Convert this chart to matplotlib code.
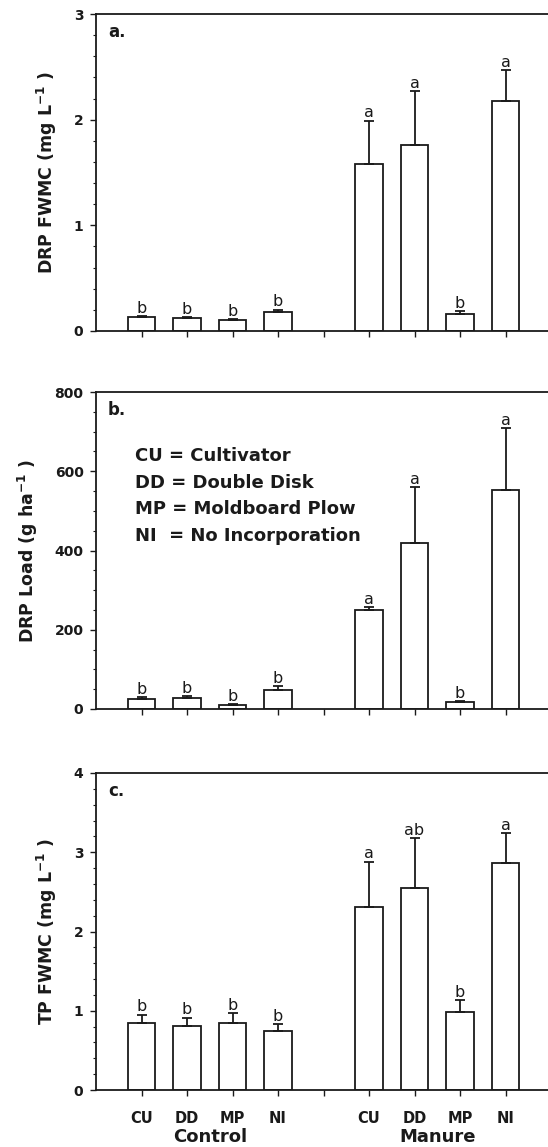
import matplotlib
matplotlib.use("Agg")
import matplotlib.pyplot as plt
from matplotlib.ticker import MultipleLocator

plt.rcParams['font.family'] = ['DejaVu Sans']
plt.rcParams['mathtext.fontset'] = 'custom'
plt.rcParams['mathtext.rm'] = 'DejaVu Sans:bold'
plt.rcParams['mathtext.bf'] = 'DejaVu Sans:bold'
plt.rcParams['mathtext.it'] = 'DejaVu Sans:bold'

# ---- data ----
treatments = ["CU", "DD", "MP", "NI"]
groups = ["Control", "Manure"]
ctrl_pos = [1, 2, 3, 4]
man_pos = [6, 7, 8, 9]

drp_fwmc_ctrl = [0.13, 0.12, 0.10, 0.18]
drp_fwmc_ctrl_err = [0.01, 0.01, 0.01, 0.02]
drp_fwmc_man = [1.58, 1.76, 0.16, 2.18]
drp_fwmc_man_err = [0.41, 0.51, 0.03, 0.29]
drp_fwmc_letters_ctrl = ["b", "b", "b", "b"]
drp_fwmc_letters_man = ["a", "a", "b", "a"]

drp_load_ctrl = [25, 27, 10, 49]
drp_load_ctrl_err = [5, 6, 2, 9]
drp_load_man = [250, 420, 17, 553]
drp_load_man_err = [7, 139, 2, 155]
drp_load_letters_ctrl = ["b", "b", "b", "b"]
drp_load_letters_man = ["a", "a", "b", "a"]

tp_fwmc_ctrl = [0.85, 0.81, 0.85, 0.75]
tp_fwmc_ctrl_err = [0.10, 0.10, 0.12, 0.08]
tp_fwmc_man = [2.31, 2.55, 0.98, 2.87]
tp_fwmc_man_err = [0.57, 0.63, 0.15, 0.37]
tp_fwmc_letters_ctrl = ["b", "b", "b", "b"]
tp_fwmc_letters_man = ["a", "ab", "b", "a"]

legend_lines = ["CU = Cultivator", "DD = Double Disk", "MP = Moldboard Plow", "NI  = No Incorporation"]

W, H = 548, 1147
fig = plt.figure(figsize=(W / 100, H / 100), dpi=100)

left_px = 96
unit_px = 45.5
xmax = 10.5
ax_w = xmax * unit_px

panels = [
    dict(top=14, vals_c=drp_fwmc_ctrl, err_c=drp_fwmc_ctrl_err, vals_m=drp_fwmc_man, err_m=drp_fwmc_man_err,
         let_c=drp_fwmc_letters_ctrl, let_m=drp_fwmc_letters_man, ylim=3, major=1, minor=0.2,
         ylabel=r"DRP FWMC (mg L$^{\mathbf{-1}}$ )", tag="a.", labx=47),
    dict(top=392, vals_c=drp_load_ctrl, err_c=drp_load_ctrl_err, vals_m=drp_load_man, err_m=drp_load_man_err,
         let_c=drp_load_letters_ctrl, let_m=drp_load_letters_man, ylim=800, major=200, minor=50,
         ylabel=r"DRP Load (g ha$^{\mathbf{-1}}$ )", tag="b.", labx=28),
    dict(top=773, vals_c=tp_fwmc_ctrl, err_c=tp_fwmc_ctrl_err, vals_m=tp_fwmc_man, err_m=tp_fwmc_man_err,
         let_c=tp_fwmc_letters_ctrl, let_m=tp_fwmc_letters_man, ylim=4, major=1, minor=0.2,
         ylabel=r"TP FWMC (mg L$^{\mathbf{-1}}$ )", tag="c.", labx=47),
]

ax_h = 317
lw = 1.3
ink = '#1a1a1a'
for i, p in enumerate(panels):
    ax = fig.add_axes([left_px / W, 1 - (p['top'] + ax_h) / H, ax_w / W, ax_h / H])
    pos = ctrl_pos + man_pos
    vals = p['vals_c'] + p['vals_m']
    errs = p['err_c'] + p['err_m']
    lets = p['let_c'] + p['let_m']
    ax.bar(pos, vals, width=0.6, color='white', edgecolor=ink, linewidth=lw, zorder=2)
    ax.errorbar(pos, vals, yerr=[[0] * len(errs), errs], fmt='none', ecolor=ink,
                elinewidth=lw, capsize=3.8, capthick=lw, zorder=3)
    for x, v, e, l in zip(pos, vals, errs, lets):
        ax.annotate(l, (x, v + e), xytext=(0, 0.3), textcoords='offset points',
                    ha='center', va='bottom', fontsize=11.5, color=ink)
    ax.set_xlim(0, xmax)
    ax.set_ylim(0, p['ylim'])
    ax.yaxis.set_major_locator(MultipleLocator(p['major']))
    ax.yaxis.set_minor_locator(MultipleLocator(p['minor']))
    ax.set_xticks(ctrl_pos + [5] + man_pos)
    if i == 2:
        ax.set_xticklabels(treatments + [""] + treatments, fontsize=10.5, fontweight='bold')
        for g, gx in zip(groups, [2.5, 7.5]):
            ax.text(gx, -(1137 - (p['top'] + ax_h)) / ax_h * p['ylim'], g, ha='center', va='center',
                    fontsize=13, fontweight='bold', color=ink)
    else:
        ax.set_xticklabels([])
    ax.tick_params(axis='x', direction='out', length=4, width=1, pad=11, colors=ink)
    ax.tick_params(axis='y', which='major', direction='out', length=4, width=1, pad=5,
                   labelsize=10, colors=ink)
    ax.tick_params(axis='y', which='minor', direction='out', length=2.5, width=0.8, colors=ink)
    for lab in ax.get_yticklabels():
        lab.set_fontweight('bold')
    for s in ['left', 'bottom', 'top']:
        ax.spines[s].set_linewidth(lw)
        ax.spines[s].set_color(ink)
    ax.spines['right'].set_visible(False)
    ax.set_ylabel(p['ylabel'], fontsize=12.5, fontweight='bold', va='center', color=ink)
    ax.yaxis.set_label_coords((p['labx'] - left_px) / ax_w, 0.5)
    ax.text((108 - left_px) / ax_w, 1 - (32 - 14) / ax_h, p['tag'], transform=ax.transAxes,
            ha='left', va='center', fontsize=12, fontweight='bold', color=ink)
    if i == 1:
        for k, line in enumerate(legend_lines):
            yy = 456 + k * 26.7
            ax.text((135 - left_px) / ax_w, 1 - (yy - p['top']) / ax_h, line, transform=ax.transAxes,
                    ha='left', va='center', fontsize=13, fontweight='bold', color=ink)

fig.savefig("out.png", dpi=100)
